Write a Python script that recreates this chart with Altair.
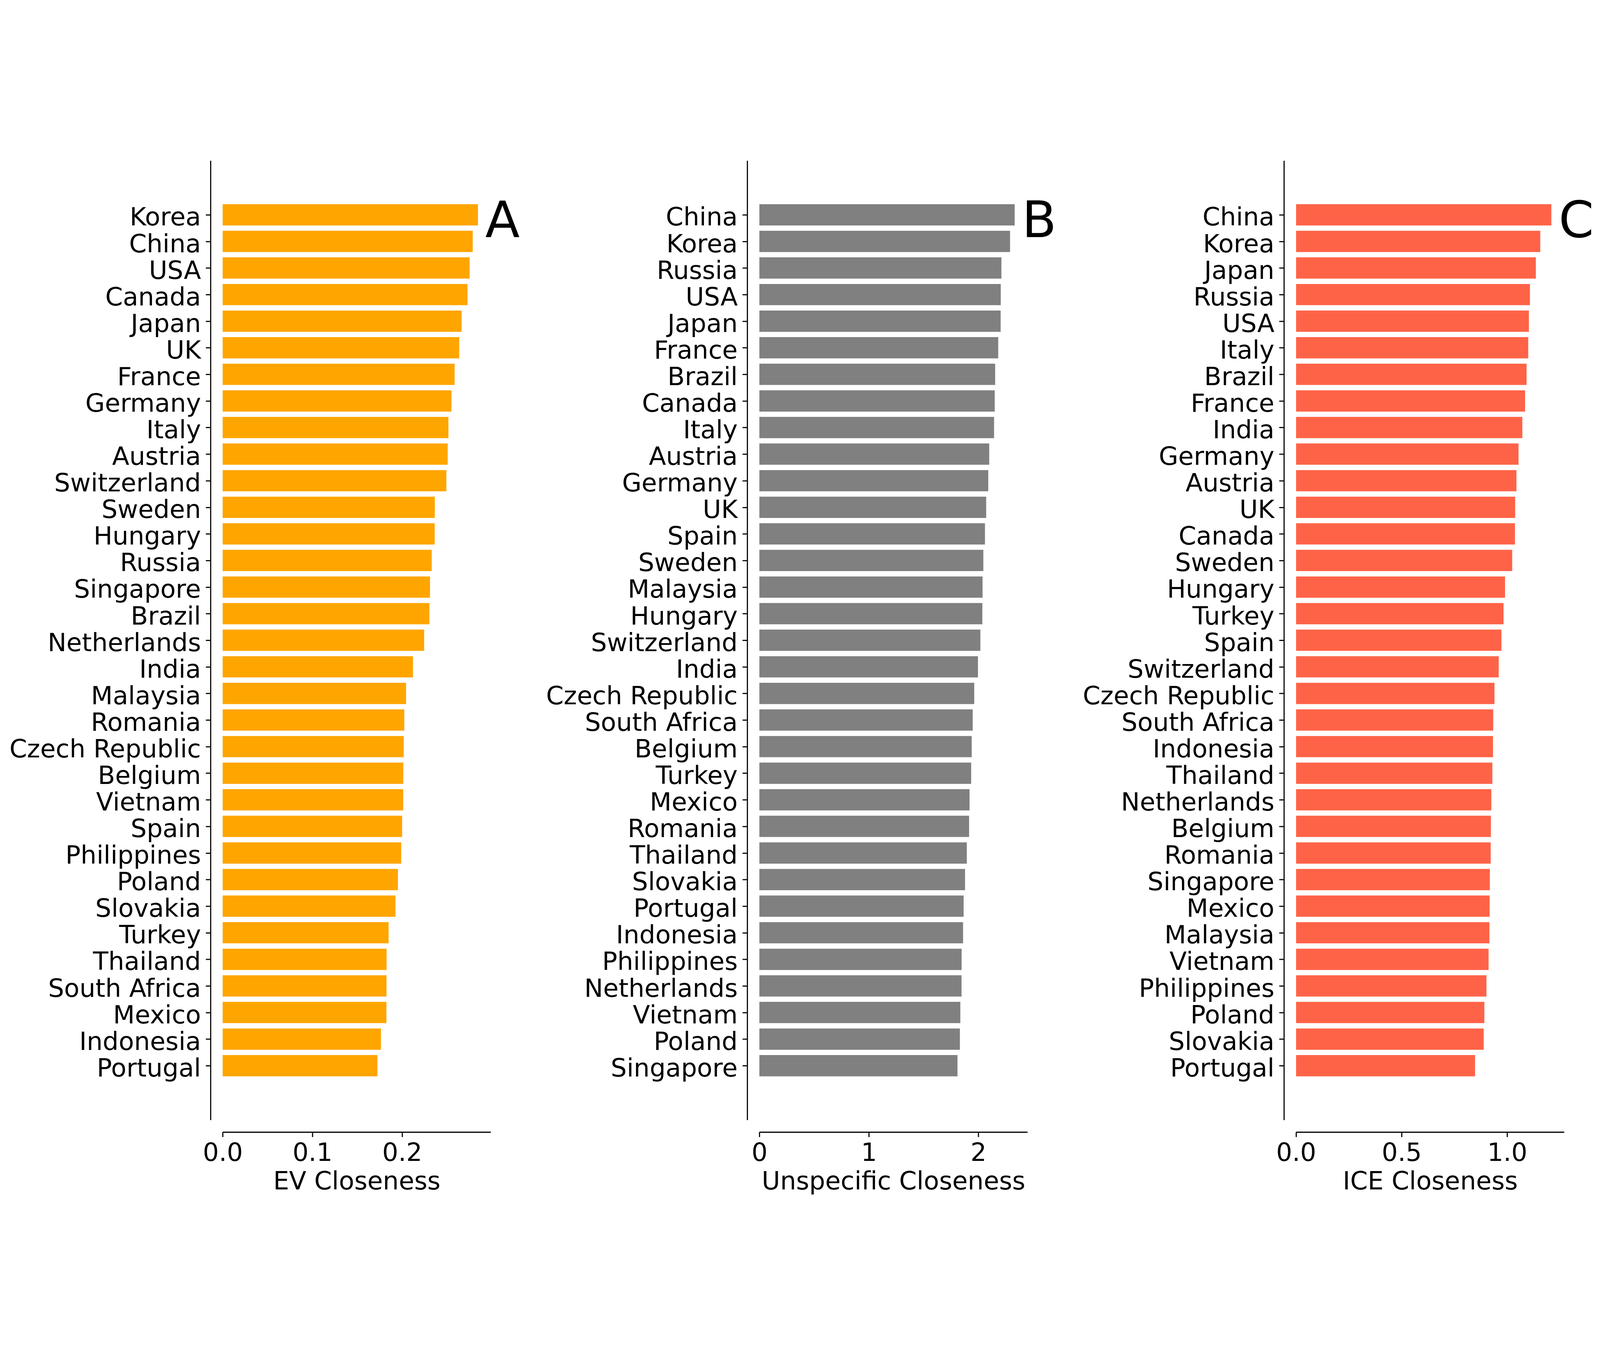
import json
import altair as alt
import pandas as pd

# Panel A: EV Closeness
ev_countries = ["Korea", "China", "USA", "Canada", "Japan", "UK", "France", "Germany", "Italy",
                "Austria", "Switzerland", "Sweden", "Hungary", "Russia", "Singapore", "Brazil",
                "Netherlands", "India", "Malaysia", "Romania", "Czech Republic", "Belgium",
                "Vietnam", "Spain", "Philippines", "Poland", "Slovakia", "Turkey", "Thailand",
                "South Africa", "Mexico", "Indonesia", "Portugal"]
ev_values = [0.2845, 0.2787, 0.2752, 0.2729, 0.2663, 0.2636, 0.2585, 0.2550, 0.2516,
             0.2508, 0.2493, 0.2364, 0.2363, 0.2330, 0.2311, 0.2304,
             0.2246, 0.2121, 0.2044, 0.2024, 0.2018, 0.2013,
             0.2012, 0.2000, 0.1990, 0.1953, 0.1926, 0.1849, 0.1827,
             0.1826, 0.1825, 0.1764, 0.1725]

# Panel B: Unspecific Closeness
un_countries = ["China", "Korea", "Russia", "USA", "Japan", "France", "Brazil", "Canada", "Italy",
                "Austria", "Germany", "UK", "Spain", "Sweden", "Malaysia", "Hungary",
                "Switzerland", "India", "Czech Republic", "South Africa", "Belgium", "Turkey",
                "Mexico", "Romania", "Thailand", "Slovakia", "Portugal", "Indonesia",
                "Philippines", "Netherlands", "Vietnam", "Poland", "Singapore"]
un_values = [2.331, 2.289, 2.210, 2.204, 2.203, 2.181, 2.153, 2.149, 2.143,
             2.099, 2.090, 2.071, 2.060, 2.045, 2.038, 2.036,
             2.018, 1.996, 1.962, 1.948, 1.939, 1.934,
             1.919, 1.915, 1.894, 1.878, 1.865, 1.860,
             1.847, 1.846, 1.835, 1.831, 1.809]

# Panel C: ICE Closeness
ice_countries = ["China", "Korea", "Japan", "Russia", "USA", "Italy", "Brazil", "France", "India",
                 "Germany", "Austria", "UK", "Canada", "Sweden", "Hungary", "Turkey", "Spain",
                 "Switzerland", "Czech Republic", "South Africa", "Indonesia", "Thailand",
                 "Netherlands", "Belgium", "Romania", "Singapore", "Mexico", "Malaysia",
                 "Vietnam", "Philippines", "Poland", "Slovakia", "Portugal"]
ice_values = [1.2095, 1.157, 1.136, 1.108, 1.103, 1.100, 1.092, 1.085, 1.072,
              1.054, 1.044, 1.038, 1.037, 1.024, 0.990, 0.983, 0.973,
              0.960, 0.940, 0.934, 0.933, 0.930,
              0.925, 0.923, 0.922, 0.918, 0.917, 0.916,
              0.912, 0.902, 0.892, 0.889, 0.848]

panels = [
    ("A", "EV Closeness", ev_countries, ev_values, "#FFA500", [0.0, 0.1, 0.2], ".1f"),
    ("B", "Unspecific Closeness", un_countries, un_values, "#808080", [0, 1, 2], "d"),
    ("C", "ICE Closeness", ice_countries, ice_values, "#FF6347", [0.0, 0.5, 1.0], ".1f"),
]

W = 884
H = 3164
FONT = "DejaVu Sans"
BAR_H = 0.8
MARGIN = 1.64
TITLE_SIZE = 83


def make_panel(letter, title, countries, values, color, ticks, fmt):
    n = len(countries)
    df = pd.DataFrame({"country": countries, "value": values, "idx": list(range(n))})
    xmax = max(values) * 1.05
    lo = -BAR_H / 2 - MARGIN
    hi = (n - 1) + BAR_H / 2 + MARGIN
    label_expr = json.dumps(countries) + "[datum.value]"
    bars = alt.Chart(df).transform_calculate(
        y0=f"datum.idx - {BAR_H / 2}", y1=f"datum.idx + {BAR_H / 2}"
    ).mark_rect(color=color).encode(
        x=alt.X("value:Q",
                scale=alt.Scale(domain=[0, xmax], nice=False, zero=True),
                axis=alt.Axis(title=title, values=ticks, format=fmt, offset=40,
                              tickSize=16, labelPadding=13, titlePadding=11,
                              titleFont=FONT, titleFontSize=TITLE_SIZE,
                              titleFontWeight="normal", titleColor="black",
                              labelFlush=False, grid=False)),
        x2=alt.datum(0),
        y=alt.Y("y0:Q",
                scale=alt.Scale(domain=[lo, hi], reverse=True, nice=False, zero=False),
                axis=alt.Axis(title=None, offset=40, tickSize=16, labelPadding=16,
                              labelOffset=10, labelLimit=2000, labelOverlap=False,
                              values=list(range(n)), labelExpr=label_expr,
                              labelFlush=False, grid=False)),
        y2="y1:Q",
    )
    lab = alt.Chart(pd.DataFrame({"t": [letter]})).mark_text(
        font=FONT, fontSize=166, align="left", baseline="alphabetic", color="black"
    ).encode(text="t:N", x=alt.value(866), y=alt.value(253))
    return alt.layer(bars, lab).properties(width=W, height=H)


charts = [make_panel(*p) for p in panels]

chart = alt.hconcat(*charts, spacing=886, bounds="flush").properties(
    padding={"left": 20, "top": 23, "right": 10, "bottom": 10},
    background="white",
).configure_view(stroke=None).configure_axis(
    labelFont=FONT, titleFont=FONT, labelFontSize=83, titleFontSize=TITLE_SIZE,
    labelColor="black", titleColor="black", titleFontWeight="normal",
    domainColor="black", tickColor="black", domainWidth=3.7, tickWidth=3.7,
)

chart.save("out.html", embed_options={"renderer": "svg", "actions": False})
